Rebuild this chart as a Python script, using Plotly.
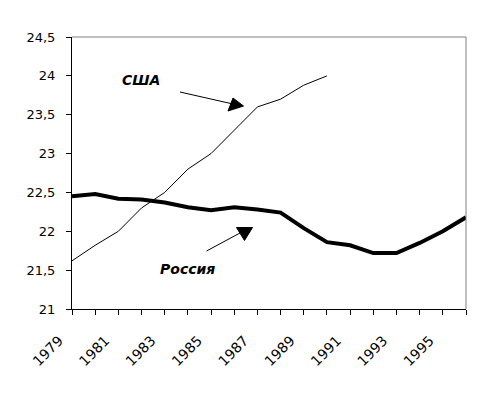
import plotly.graph_objects as go

years = list(range(1979, 1997))
russia = [22.45, 22.48, 22.42, 22.41, 22.37, 22.31, 22.27, 22.31, 22.28, 22.24,
          22.04, 21.86, 21.82, 21.72, 21.72, 21.85, 22.0, 22.18]
usa_years = list(range(1979, 1991))
usa = [21.62, 21.82, 22.0, 22.3, 22.5, 22.8, 23.0, 23.3, 23.6, 23.7, 23.88, 24.0]
x_tick_labels = [str(y) if (y - 1979) % 2 == 0 else "" for y in years]
y_ticks = [21, 21.5, 22, 22.5, 23, 23.5, 24, 24.5]

FONT = "DejaVu Sans, Arial, sans-serif"

fig = go.Figure()
fig.add_trace(go.Scatter(x=usa_years, y=usa, mode="lines",
                         line=dict(color="black", width=1), name="США"))
fig.add_trace(go.Scatter(x=years, y=russia, mode="lines",
                         line=dict(color="black", width=4), name="Россия"))

def px2data(px, py):
    return 1979 + (px - 72) / (394 / 17), 24.5 - (py - 37) / (272 / 3.5)

shapes = []
shapes.append(dict(type="line", xref="paper", yref="paper", x0=0, x1=1, y0=1, y1=1,
                   line=dict(color="#808080", width=1)))
shapes.append(dict(type="line", xref="paper", yref="paper", x0=1, x1=1, y0=0, y1=1,
                   line=dict(color="#808080", width=1)))

def arrow(p0, p1, tri):
    x0, y0 = px2data(*p0)
    x1, y1 = px2data(*p1)
    shapes.append(dict(type="line", x0=x0, y0=y0, x1=x1, y1=y1, xref="x", yref="y",
                       line=dict(color="black", width=1)))
    pts = [px2data(*p) for p in tri]
    path = "M " + " L ".join(f"{a},{b}" for a, b in pts) + " Z"
    shapes.append(dict(type="path", path=path, xref="x", yref="y",
                       fillcolor="black", line=dict(color="black", width=1)))

arrow((180, 92), (233, 104), [(228, 111), (233, 98), (243.5, 106)])
arrow((206.5, 251), (240, 233), [(236.5, 227.5), (252.5, 227.5), (244.5, 240.5)])

ax, ay = px2data(141, 79.5)
bx, by = px2data(187.5, 269)
annotations = [
    dict(x=ax, y=ay, xref="x", yref="y", text="<b><i>США</i></b>", showarrow=False,
         font=dict(family=FONT, size=14, color="black")),
    dict(x=bx, y=by, xref="x", yref="y", text="<b><i>Россия</i></b>", showarrow=False,
         font=dict(family=FONT, size=14, color="black")),
]

fig.update_layout(
    width=478, height=387,
    margin=dict(l=64, r=20, t=29, b=86),
    paper_bgcolor="white", plot_bgcolor="white",
    showlegend=False,
    separators=", ",
    font=dict(family=FONT, size=13, color="black"),
    shapes=shapes, annotations=annotations,
    xaxis=dict(range=[1979, 1996], tickmode="array", tickvals=years, ticktext=x_tick_labels,
               tickangle=-45, showgrid=False, zeroline=False, showline=True,
               linecolor="black", linewidth=1, ticks="outside", ticklen=5,
               tickcolor="black", tickfont=dict(size=14), automargin=False,
               ticklabelstandoff=12, ticklabelshift=-13),
    yaxis=dict(range=[21, 24.5], tickmode="array", tickvals=y_ticks,
               showgrid=False, zeroline=False, showline=True, linecolor="black",
               linewidth=1, ticks="outside", ticklen=5, tickcolor="black",
               tickfont=dict(size=13), ticklabelstandoff=8, automargin=False),
)

fig.write_html("out.html")
